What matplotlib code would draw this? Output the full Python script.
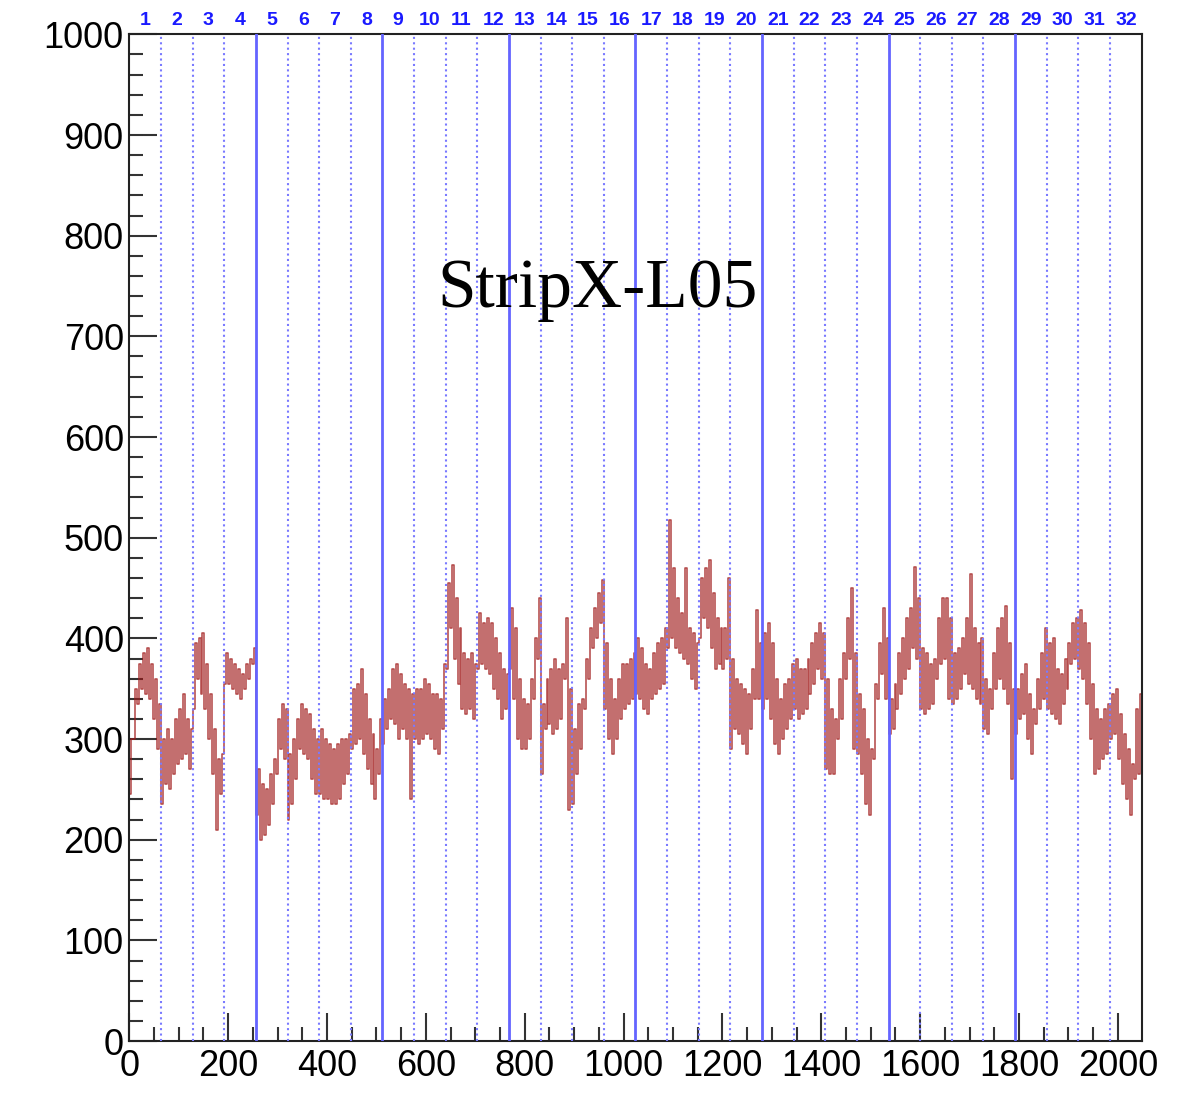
import matplotlib
matplotlib.use("Agg")
import matplotlib.pyplot as plt
from matplotlib.ticker import MultipleLocator
import numpy as np

# ---- data: per 8-channel bin, low / high of the trace ----
bin_low = [
    245, 300, 335, 350, 345, 340, 320, 290,   235, 255, 250, 265, 275, 280, 285, 270,
    330, 360, 345, 330, 300, 265, 210, 245,   355, 355, 350, 345, 340, 350, 360, 375,
    225, 200, 205, 215, 235, 265, 290, 280,   220, 235, 260, 290, 285, 280, 260, 245,
    245, 240, 240, 235, 235, 240, 255, 265,   290, 295, 300, 285, 270, 255, 240, 265,
    295, 310, 320, 315, 300, 310, 300, 240,   300, 295, 300, 305, 300, 290, 285, 310,
    370, 410, 380, 355, 330, 325, 330, 320,   370, 375, 370, 365, 350, 340, 320, 330,
    370, 340, 300, 290, 290, 300, 340, 380,   265, 310, 315, 305, 310, 320, 360, 230,
    235, 265, 290, 330, 360, 390, 400, 415,   330, 300, 285, 300, 320, 330, 335, 340,
    345, 340, 330, 325, 340, 345, 350, 355,   390, 400, 390, 385, 380, 375, 360, 350,
    400, 420, 410, 390, 370, 375, 370, 380,   290, 310, 305, 295, 285, 310, 340, 340,
    330, 340, 320, 295, 285, 300, 310, 320,   330, 320, 325, 330, 345, 355, 370, 360,
    270, 265, 265, 300, 320, 360, 380, 290,   285, 265, 235, 225, 280, 340, 365, 340,
    305, 310, 330, 345, 360, 370, 390, 380,   330, 325, 330, 335, 360, 375, 380, 340,
    335, 340, 350, 365, 355, 350, 340, 335,   310, 305, 330, 350, 360, 350, 335, 260,
    305, 320, 325, 300, 285, 315, 330, 340,   330, 325, 320, 315, 335, 350, 375, 380,
    370, 360, 335, 300, 265, 270, 280, 285,   300, 305, 280, 255, 240, 225, 260, 265,
]
bin_high = [
    300, 350, 375, 385, 390, 375, 360, 335,   300, 310, 300, 320, 330, 345, 320, 310,
    395, 400, 405, 375, 345, 310, 280, 285,   385, 380, 375, 370, 365, 375, 380, 390,
    270, 255, 250, 265, 280, 320, 335, 330,   285, 300, 320, 335, 330, 325, 310, 300,
    310, 300, 295, 290, 295, 300, 300, 305,   350, 355, 370, 345, 320, 305, 290, 320,
    340, 350, 370, 375, 365, 355, 350, 345,   350, 350, 360, 355, 345, 345, 340, 375,
    455, 473, 440, 410, 385, 380, 385, 375,   425, 415, 420, 415, 400, 385, 370, 365,
    430, 410, 360, 340, 335, 360, 400, 440,   335, 360, 370, 380, 370, 375, 420, 350,
    310, 335, 340, 380, 410, 430, 445, 458,   395, 360, 340, 360, 375, 375, 380, 385,
    400, 390, 375, 370, 385, 395, 400, 410,   518, 470, 440, 425, 470, 410, 405, 395,
    460, 470, 478, 445, 420, 410, 410, 460,   380, 360, 355, 350, 345, 370, 428, 395,
    405, 415, 395, 360, 340, 355, 360, 375,   380, 370, 370, 380, 395, 405, 415, 405,
    360, 330, 320, 360, 385, 420, 450, 385,   345, 330, 300, 290, 355, 395, 430, 400,
    340, 355, 385, 400, 420, 430, 471, 440,   390, 385, 375, 380, 420, 440, 440, 420,
    385, 390, 400, 420, 464, 410, 395, 400,   360, 350, 385, 410, 420, 432, 395, 350,
    350, 365, 375, 345, 330, 360, 385, 410,   395, 400, 370, 365, 380, 395, 415, 420,
    428, 415, 395, 355, 330, 320, 330, 335,   345, 350, 325, 305, 290, 275, 330, 345,
]

n_channels = 2048
bin_width = 8
chips_per_block = 4        # solid line every 256 channels
chip_width = 64            # 32 chips of 64 channels
chip_labels = [str(i) for i in range(1, 33)]
title_text = "StripX-L05"

# ---- build the trace: low/high alternating within each bin ----
xs, ys = [], []
for i, (lo, hi) in enumerate(zip(bin_low, bin_high)):
    start = i * bin_width
    xs += [start + 2, start + 6]
    ys += [lo, hi]

fig = plt.figure(figsize=(11.8, 10.94), dpi=100)
ax = fig.add_axes([0.1096, 0.0484, 0.8579, 0.9202])

ax.plot(xs, ys, drawstyle="steps-mid", color="#a01818", alpha=0.78, lw=1.15, zorder=2)

# chip boundaries
for k in range(1, 32):
    xb = k * chip_width
    if k % chips_per_block == 0:
        ax.axvline(xb, color="#6464ff", lw=2.0, zorder=3)
    else:
        ax.axvline(xb, color="#7a7aff", lw=1.5, ls=(0, (1, 1.6)), zorder=3)

# chip labels on top
for k, lab in enumerate(chip_labels):
    ax.text((k + 0.5) * chip_width, 1.0142, lab, transform=ax.get_xaxis_transform(),
            ha="center", va="center", color="#1a1aff", fontsize=14,
            fontweight="bold", family="Liberation Sans")

ax.text(0.463, 0.746, title_text, transform=ax.transAxes, ha="center", va="center",
        fontsize=50, family="Liberation Serif", color="black")

ax.set_xlim(0, n_channels)
ax.set_ylim(0, 1000)
ax.xaxis.set_major_locator(MultipleLocator(200))
ax.xaxis.set_minor_locator(MultipleLocator(50))
ax.yaxis.set_major_locator(MultipleLocator(100))
ax.yaxis.set_minor_locator(MultipleLocator(20))
ax.tick_params(which="major", direction="in", length=20, width=1.5, color="#333333",
               labelsize=26, top=False, right=False)
ax.tick_params(which="minor", direction="in", length=10, width=1.5, color="#333333",
               top=False, right=False)
ax.tick_params(axis="y", pad=4)
ax.tick_params(axis="x", pad=6)
for lab in ax.get_xticklabels() + ax.get_yticklabels():
    lab.set_family("Liberation Sans")
for sp in ax.spines.values():
    sp.set_linewidth(1.5)
    sp.set_color("#222222")

fig.savefig("out.png", dpi=100)
